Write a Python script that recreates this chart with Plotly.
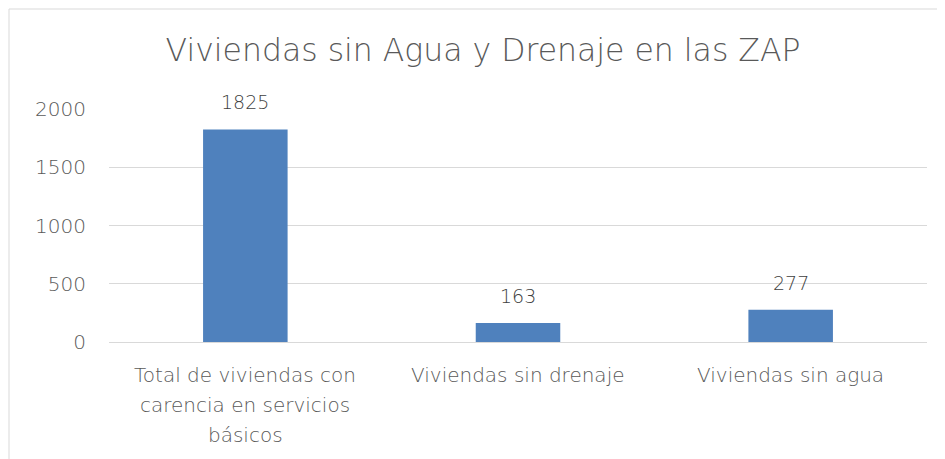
import plotly.graph_objects as go

categories = ["Total de viviendas con<br>carencia en servicios<br>básicos",
              "Viviendas sin drenaje",
              "Viviendas sin agua"]
values = [1825, 163, 277]
title_text = "Viviendas sin Agua y Drenaje en las ZAP"

FONT = "DejaVu Sans"
WT = 200
TXT = "#595959"

OFF = 8  # browser body margin
W, H = 945 - OFF, 459 - OFF
L, R, T, B = 109 - OFF, 18, 109 - OFF, 117
pw, ph = W - L - R, H - T - B

fig = go.Figure(go.Bar(
    x=categories, y=values,
    marker=dict(color="#4F81BD", line=dict(width=0)),
    width=0.31, hoverinfo="skip",
))

for c, v in zip(categories, values):
    fig.add_annotation(x=c, y=v, text=str(v), showarrow=False, yanchor="bottom",
                       yshift=14, font=dict(family=FONT, size=19, color="#404040", weight=WT))

# category labels, one line each, Excel-like line spacing
for c in categories:
    for i, line in enumerate(c.split("<br>")):
        fig.add_annotation(x=c, y=0, xref="x", yref="paper", text=line, showarrow=False,
                           yanchor="middle", xanchor="center", yshift=-33 - 30 * i,
                           font=dict(family=FONT, size=20, color=TXT, weight=WT))

fig.update_layout(
    width=W, height=H,
    margin=dict(l=L, r=R, t=T, b=B),
    paper_bgcolor="white", plot_bgcolor="white",
    font=dict(family=FONT, color=TXT, weight=WT),
    title=dict(text=title_text, x=(483 - OFF) / W, xref="container", xanchor="center",
               y=1 - (50 - OFF) / H, yanchor="middle",
               font=dict(family=FONT, size=31.5, color=TXT, weight=WT)),
    showlegend=False,
    yaxis=dict(range=[0, 2000], dtick=500, showgrid=True, gridcolor="#D9D9D9", gridwidth=1,
               zeroline=False, showline=False, ticks="", ticklabelstandoff=22,
               tickfont=dict(family=FONT, size=20, color=TXT, weight=WT)),
    xaxis=dict(showline=True, linecolor="#D9D9D9", linewidth=1, ticks="",
               showticklabels=False),
    shapes=[dict(type="rect", xref="paper", yref="paper",
                 x0=(9 - 109) / pw, x1=1.2, y0=-1.0, y1=1 + (109 - 9) / ph,
                 line=dict(color="#D9D9D9", width=1), fillcolor="rgba(0,0,0,0)", layer="below")],
)

fig.write_html("out.html")
